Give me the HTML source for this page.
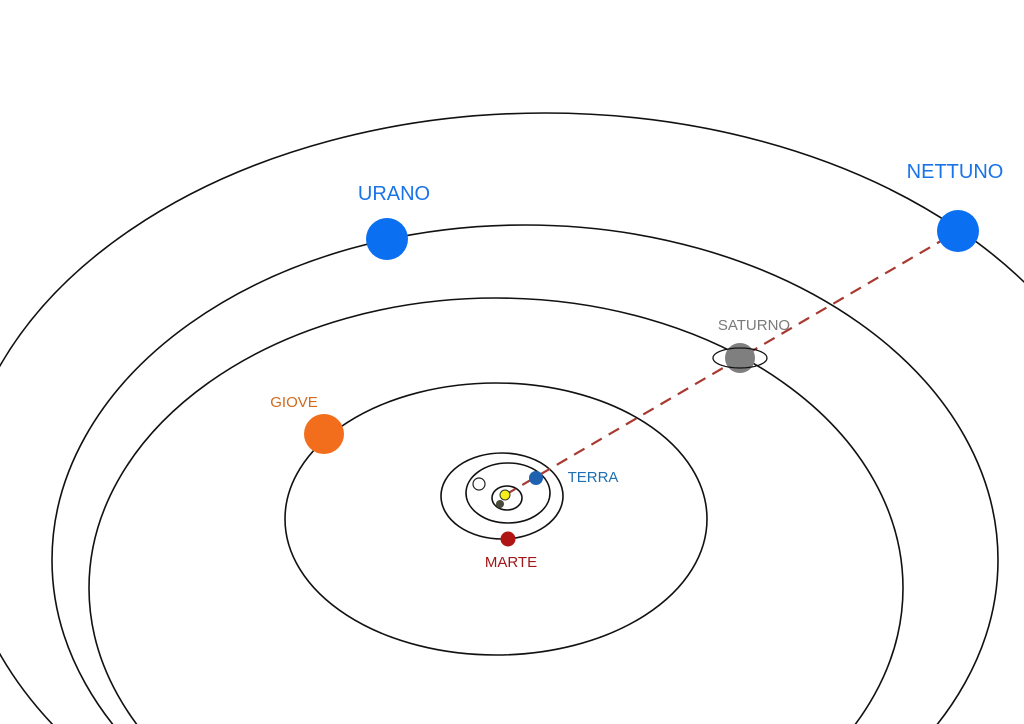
<!DOCTYPE html>
<html><head><meta charset="utf-8"><style>
html,body{margin:0;padding:0;background:#fff;overflow:hidden;width:1024px;height:724px;}
svg{display:block}
text{font-family:"Liberation Sans",sans-serif;}
</style></head><body>
<svg width="1024" height="724" viewBox="0 0 1024 724" xmlns="http://www.w3.org/2000/svg">
<g fill="none" stroke="#111" stroke-width="1.6">
<ellipse cx="545" cy="510" rx="585" ry="397"/>
<ellipse cx="525" cy="560" rx="473" ry="335"/>
<ellipse cx="496" cy="588" rx="407" ry="290"/>
<ellipse cx="496" cy="519" rx="211" ry="136"/>
<ellipse cx="502" cy="496" rx="61" ry="43"/>
<ellipse cx="508" cy="493" rx="42" ry="30"/>
<ellipse cx="507" cy="498" rx="15" ry="12"/>
</g>
<line x1="505" y1="495" x2="958" y2="231" stroke="#a83a32" stroke-width="2.2" stroke-dasharray="12,8"/>
<circle cx="387" cy="239" r="21" fill="#0a6ff0"/>
<circle cx="958" cy="231" r="21" fill="#0a6ff0"/>
<circle cx="324" cy="434" r="20" fill="#f26d1c"/>
<circle cx="740" cy="358" r="15" fill="#7f7f7f"/>
<ellipse cx="740" cy="358" rx="27" ry="10" fill="none" stroke="#111" stroke-width="1.3"/>
<circle cx="536" cy="478" r="7" fill="#1f63b0"/>
<circle cx="479" cy="484" r="6" fill="#fff" stroke="#222" stroke-width="1.2"/>
<circle cx="505" cy="495" r="5" fill="#f4ef1a" stroke="#333" stroke-width="1"/>
<circle cx="500" cy="504" r="4" fill="#4a4a3a"/>
<circle cx="508" cy="539" r="7.5" fill="#b01515"/>
<g font-size="20" fill="#1a73e8" text-anchor="middle">
<text x="394" y="200">URANO</text>
<text x="955" y="178">NETTUNO</text>
</g>
<text x="754" y="330" font-size="15" fill="#7a7a7a" text-anchor="middle">SATURNO</text>
<text x="294" y="407" font-size="15" fill="#d3691c" text-anchor="middle">GIOVE</text>
<text x="593" y="482" font-size="15" fill="#1f6fb5" text-anchor="middle">TERRA</text>
<text x="511" y="567" font-size="15" fill="#a01818" text-anchor="middle">MARTE</text>
</svg>
</body></html>
